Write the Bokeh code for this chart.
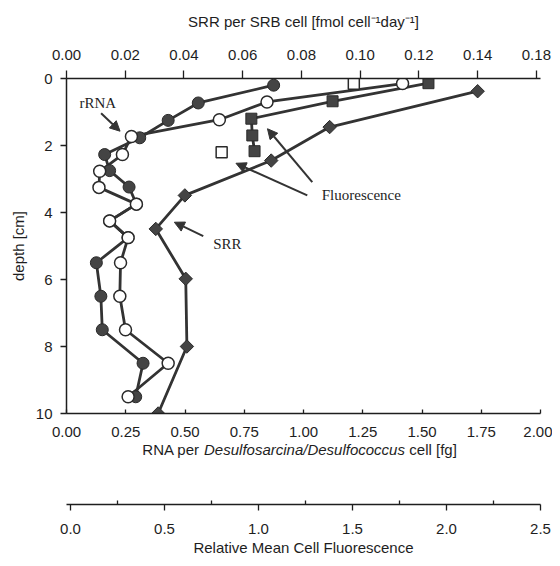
import math
from bokeh.plotting import figure
from bokeh.layouts import column
from bokeh.models import Range1d, LinearAxis, FixedTicker, Label, Arrow, NormalHead
from bokeh.embed import file_html
from bokeh.resources import INLINE

# ---------------- data ----------------
# rRNA per cell, filled circles (bottom axis, fg)
depth_rna_filled = [0.2, 0.73, 1.25, 1.77, 2.27, 2.75, 3.24, 3.75, 4.25, 4.75, 5.5, 6.5, 7.5, 8.5, 9.5]
rna_filled = [0.874, 0.556, 0.429, 0.309, 0.161, 0.182, 0.264, 0.295, 0.182, 0.26, 0.126, 0.145, 0.151, 0.323, 0.292]
# rRNA per cell, open circles (bottom axis, fg)
depth_rna_open = [0.15, 0.7, 1.23, 1.73, 2.27, 2.77, 3.25, 3.75, 4.25, 4.75, 5.5, 6.5, 7.5, 8.5, 9.5]
rna_open = [1.418, 0.846, 0.645, 0.274, 0.236, 0.14, 0.137, 0.295, 0.182, 0.26, 0.228, 0.225, 0.249, 0.429, 0.26]
# SRR per SRB cell, diamonds (top axis)
depth_srr = [0.38, 1.45, 2.45, 3.49, 4.49, 5.98, 8.0, 10.0]
srr = [0.140, 0.0896, 0.0697, 0.0403, 0.0304, 0.0406, 0.041, 0.0312]
# relative mean cell fluorescence, filled squares
depth_fl_filled = [0.14, 0.68, 1.2, 1.7, 2.17]
fl_filled = [1.904, 1.394, 0.962, 0.967, 0.979]
# relative mean cell fluorescence, open squares
depth_fl_open = [0.16, 2.2]
fl_open = [1.507, 0.804]

# ticks
srr_ticks = [0.0, 0.02, 0.04, 0.06, 0.08, 0.10, 0.12, 0.14, 0.16]
srr_tick_labels = ["0.00", "0.02", "0.04", "0.06", "0.08", "0.10", "0.12", "0.14", "0.18"]
rna_ticks = [0.0, 0.25, 0.5, 0.75, 1.0, 1.25, 1.5, 1.75, 2.0]
rna_tick_labels = ["0.00", "0.25", "0.50", "0.75", "1.00", "1.25", "1.50", "1.75", "2.00"]
fl_ticks = [0.0, 0.5, 1.0, 1.5, 2.0, 2.5]
fl_tick_labels = ["0.0", "0.5", "1.0", "1.5", "2.0", "2.5"]
fl_minor_ticks = [0.25, 0.75, 1.25, 1.75, 2.25]
depth_ticks = [0, 2, 4, 6, 8, 10]

INK = "#1e1e1e"
LINE = "#333333"
FILL = "#444444"
SANS = "Liberation Sans"
SERIF = "Liberation Serif"
W = 552
ML, MR = 66, 12

p = figure(width=W, height=441, x_range=Range1d(0, 2.0), y_range=Range1d(10, 0),
           output_backend="svg", toolbar_location=None,
           x_axis_location=None, y_axis_location=None,
           min_border_left=ML, min_border_right=MR, min_border_top=78, min_border_bottom=28)
p.outline_line_color = None
p.xgrid.visible = False
p.ygrid.visible = False
p.extra_x_ranges = {"srr": Range1d(0, 0.1614), "fl": Range1d(-0.0213, 2.5)}


def style_axis(ax):
    ax.axis_line_color = INK
    ax.axis_line_width = 1.5
    ax.major_tick_line_color = INK
    ax.major_tick_line_width = 1.3
    ax.minor_tick_line_color = INK
    ax.minor_tick_line_width = 1.3
    ax.major_label_text_font = SANS
    ax.major_label_text_font_size = "15px"
    ax.major_label_text_color = INK
    ax.axis_label_text_font = SANS
    ax.axis_label_text_font_size = "15px"
    ax.axis_label_text_font_style = "normal"
    ax.axis_label_text_color = INK


# top axis (SRR)
top = LinearAxis(x_range_name="srr", ticker=FixedTicker(ticks=srr_ticks),
                 major_label_overrides={t: l for t, l in zip(srr_ticks, srr_tick_labels)},
                 axis_label="SRR per SRB cell [fmol cell\u207b\u00b9day\u207b\u00b9]")
style_axis(top)
top.major_tick_out = 8
top.major_tick_in = 0
top.minor_tick_out = 0
top.minor_tick_in = 0
top.major_label_standoff = 11
top.axis_label_standoff = 17
p.add_layout(top, "above")

# left axis (depth)
left = LinearAxis(ticker=FixedTicker(ticks=depth_ticks), axis_label="depth [cm]")
style_axis(left)
left.major_tick_out = 6
left.major_tick_in = 0
left.minor_tick_out = 0
left.minor_tick_in = 0
left.major_label_standoff = 8
left.axis_label_standoff = 6
p.add_layout(left, "left")

# bottom axis (RNA)
bottom = LinearAxis(ticker=FixedTicker(ticks=rna_ticks),
                    major_label_overrides={t: l for t, l in zip(rna_ticks, rna_tick_labels)})
style_axis(bottom)
bottom.major_tick_out = 0
bottom.major_tick_in = 4
bottom.minor_tick_out = 0
bottom.minor_tick_in = 0
bottom.major_label_standoff = 13
p.add_layout(bottom, "below")

# series lines + markers
p.line(rna_filled, depth_rna_filled, line_color=LINE, line_width=2.8)
p.line(rna_open, depth_rna_open, line_color=LINE, line_width=2.8)
p.line(srr, depth_srr, x_range_name="srr", line_color=LINE, line_width=2.8)
p.line(fl_filled, depth_fl_filled, x_range_name="fl", line_color=LINE, line_width=2.8)

p.scatter(srr, depth_srr, x_range_name="srr", marker="square", angle=math.pi / 4, size=9.5,
          fill_color=FILL, line_color="#2a2a2a", line_width=1)
p.scatter(fl_filled, depth_fl_filled, x_range_name="fl", marker="square", size=11,
          fill_color=FILL, line_color="#2a2a2a", line_width=1)
p.scatter(fl_open, depth_fl_open, x_range_name="fl", marker="square", size=11,
          fill_color="white", line_color="#2a2a2a", line_width=1.5)
p.scatter(rna_filled, depth_rna_filled, marker="circle", size=12,
          fill_color=FILL, line_color="#2a2a2a", line_width=1)
p.scatter(rna_open, depth_rna_open, marker="circle", size=12,
          fill_color="white", line_color="#2a2a2a", line_width=1.5)

# annotations (text + arrows), positions in bottom-axis / depth units
labels = [("rRNA", 0.055, 0.72), ("SRR", 0.619, 4.93), ("Fluorescence", 1.077, 3.47)]
for txt, lx, ly in labels:
    p.add_layout(Label(x=lx, y=ly, text=txt, text_align="left", text_baseline="middle",
                       text_font=SERIF, text_font_size="15px", text_color=INK))

arrows = [(0.146, 1.036, 0.226, 1.573),
          (0.577, 4.707, 0.455, 4.29),
          (1.037, 3.096, 0.848, 1.50),
          (1.016, 3.49, 0.715, 2.53)]
for xs, ys, xe, ye in arrows:
    p.add_layout(Arrow(x_start=xs, y_start=ys, x_end=xe, y_end=ye, line_color=LINE, line_width=2,
                       end=NormalHead(size=10, fill_color=LINE, line_color=LINE)))

# strip holding the bottom-axis title (italic genus names)
pm = figure(width=W, height=22, x_range=Range1d(0, 2.0), y_range=Range1d(0, 1),
            output_backend="svg", toolbar_location=None,
            x_axis_location=None, y_axis_location=None,
            min_border_left=ML, min_border_right=MR, min_border_top=0, min_border_bottom=0)
pm.outline_line_color = None
pm.xgrid.visible = False
pm.ygrid.visible = False
title_x = 0.32
title_y = 0.62
for txt, off, style in [("RNA per", 0, "normal"),
                        ("Desulfosarcina/Desulfococcus", 61.7, "italic"),
                        ("cell [fg]", 267.0, "normal")]:
    pm.add_layout(Label(x=title_x, y=title_y, x_offset=off, text=txt, text_align="left",
                        text_baseline="middle", text_font=SANS, text_font_size="15px",
                        text_font_style=style, text_color=INK))
pm.scatter([], [], size=1)

# separate fluorescence axis
p2 = figure(width=W, height=95, x_range=p.extra_x_ranges["fl"], y_range=Range1d(0, 1),
            output_backend="svg", toolbar_location=None,
            x_axis_location=None, y_axis_location=None,
            min_border_left=ML, min_border_right=MR, min_border_top=0, min_border_bottom=0)
p2.outline_line_color = None
p2.xgrid.visible = False
p2.ygrid.visible = False
fl_axis = LinearAxis(ticker=FixedTicker(ticks=fl_ticks, minor_ticks=fl_minor_ticks),
                     major_label_overrides={t: l for t, l in zip(fl_ticks, fl_tick_labels)},
                     axis_label="Relative Mean Cell Fluorescence")
style_axis(fl_axis)
fl_axis.major_tick_out = 6
fl_axis.major_tick_in = 0
fl_axis.minor_tick_out = 0
fl_axis.minor_tick_in = 4
fl_axis.major_label_standoff = 13
fl_axis.axis_label_standoff = 2
p2.add_layout(fl_axis, "below")
p2.scatter([], [], size=1)

layout = column(p, pm, p2, spacing=0)
open("out.html", "w").write(file_html(layout, INLINE))
